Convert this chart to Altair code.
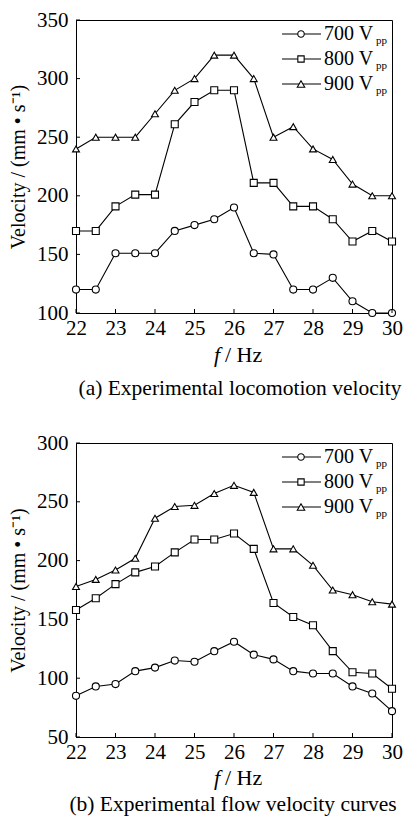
import altair as alt
import pandas as pd

# ---------------- data ----------------
freq = [22, 22.5, 23, 23.5, 24, 24.5, 25, 25.5, 26, 26.5, 27, 27.5, 28, 28.5, 29, 29.5, 30]
series = ["700", "800", "900"]
legend_labels = ["700 V", "800 V", "900 V"]

# (a) locomotion velocity
a_700 = [120, 120, 151, 151, 151, 170, 175, 180, 190, 151, 150, 120, 120, 130, 110, 100, 100]
a_800 = [170, 170, 191, 201, 201, 261, 280, 290, 290, 211, 211, 191, 191, 180, 161, 170, 161]
a_900 = [240, 250, 250, 250, 270, 290, 300, 320, 320, 300, 250, 259, 240, 231, 210, 200, 200]

# (b) flow velocity
b_700 = [85, 93, 95, 106, 109, 115, 114, 123, 131, 120, 116, 106, 104, 104, 93, 87, 72]
b_800 = [158, 168, 180, 190, 195, 207, 218, 218, 223, 210, 164, 152, 145, 123, 105, 104, 91]
b_900 = [178, 184, 192, 202, 236, 246, 247, 257, 264, 258, 210, 210, 196, 175, 171, 165, 163]

x_ticks = [22, 23, 24, 25, 26, 27, 28, 29, 30]
a_yticks = [100, 150, 200, 250, 300, 350]
b_yticks = [50, 100, 150, 200, 250, 300]
captions = ["(a) Experimental locomotion velocity", "(b) Experimental flow velocity curves"]

# ---------------- styling ----------------
FONT = "Liberation Serif, Times New Roman, serif"
W = 316
shapes = ["circle", "square", "triangle-up"]
sizes = [50, 48, 64]


def build_df(vals):
    rows = []
    for s, v in zip(series, vals):
        for f, y in zip(freq, v):
            rows.append({"series": s, "f": f, "v": y})
    return pd.DataFrame(rows)


def panel(df, ydom, yticks, caption, cap_x, title_dy, cap_dy, H):
    x = alt.X("f:Q", scale=alt.Scale(domain=[22, 30], nice=False, zero=False),
              axis=alt.Axis(values=x_ticks, title=None, labelFlush=False, labelPadding=4))
    y = alt.Y("v:Q", scale=alt.Scale(domain=ydom, nice=False, zero=False),
              axis=alt.Axis(values=yticks, title="Velocity / (mm • s⁻¹)", labelPadding=8,
                            titlePadding=8))
    base = alt.Chart(df)
    lines = base.mark_line(color="black", strokeWidth=1.1).encode(x=x, y=y, detail="series:N")
    pts = base.mark_point(filled=True, fill="white", stroke="black", strokeWidth=1.1,
                          opacity=1).encode(
        x=x, y=y,
        shape=alt.Shape("series:N", scale=alt.Scale(domain=series, range=shapes), legend=None),
        size=alt.Size("series:N", scale=alt.Scale(domain=series, range=sizes), legend=None),
    )
    # inward ticks
    xt = alt.Chart(pd.DataFrame({"f": x_ticks})).mark_rule(color="black", strokeWidth=1).encode(
        x=x, y=alt.value(H), y2=alt.value(H - 4))
    yt = alt.Chart(pd.DataFrame({"v": yticks})).mark_rule(color="black", strokeWidth=1).encode(
        y=y, x=alt.value(0), x2=alt.value(4))

    layers = [lines, pts, xt, yt]
    # manual legend
    for i in range(3):
        ld = alt.Chart(pd.DataFrame({"label": [legend_labels[i]], "series": [series[i]]}))
        ry = 14 + 25 * i
        layers.append(ld.mark_rule(color="black", strokeWidth=1.1).encode(
            x=alt.value(206), x2=alt.value(245), y=alt.value(ry)))
        layers.append(ld.mark_point(filled=True, fill="white", stroke="black", strokeWidth=1.1,
                                    opacity=1, shape=shapes[i], size=sizes[i] - 8).encode(
            x=alt.value(225), y=alt.value(ry)))
        layers.append(ld.mark_text(align="left", baseline="middle", font=FONT, fontSize=20,
                                   color="black").encode(
            text="label:N", x=alt.value(248), y=alt.value(ry)))
        layers.append(ld.mark_text(align="left", baseline="middle", font=FONT, fontSize=11,
                                   color="black", text="pp").encode(
            x=alt.value(300), y=alt.value(ry + 7)))
    # x title with italic f
    td = alt.Chart(pd.DataFrame({"a": [0]}))
    layers.append(td.mark_text(align="right", baseline="middle", font=FONT, fontSize=22,
                               fontStyle="italic", color="black", text="f").encode(
        x=alt.value(144), y=alt.value(H + title_dy)))
    layers.append(td.mark_text(align="left", baseline="middle", font=FONT, fontSize=22,
                               color="black", text="/ Hz").encode(
        x=alt.value(149), y=alt.value(H + title_dy)))
    layers.append(td.mark_text(align="center", baseline="middle", font=FONT, fontSize=21.5,
                               color="black", text=caption).encode(
        x=alt.value(cap_x), y=alt.value(H + cap_dy)))
    return alt.layer(*layers).properties(width=W, height=H)


pa = panel(build_df([a_700, a_800, a_900]), [100, 350], a_yticks, captions[0], 164, 42, 76, 293)
pb = panel(build_df([b_700, b_800, b_900]), [50, 300], b_yticks, captions[1], 157, 41, 68, 294)

chart = alt.vconcat(pa, pb, spacing=130, bounds="flush").properties(
    padding={"left": 0, "top": 0, "right": 0, "bottom": 0},
    background="white",
).configure_axis(
    labelFont=FONT, labelFontSize=21, labelColor="black",
    titleFont=FONT, titleFontSize=20, titleFontWeight="normal", titleColor="black",
    domainColor="black", tickSize=0, grid=False,
).configure_view(stroke="black", strokeWidth=1)

chart.save("out.html", embed_options={"renderer": "svg", "actions": False})
